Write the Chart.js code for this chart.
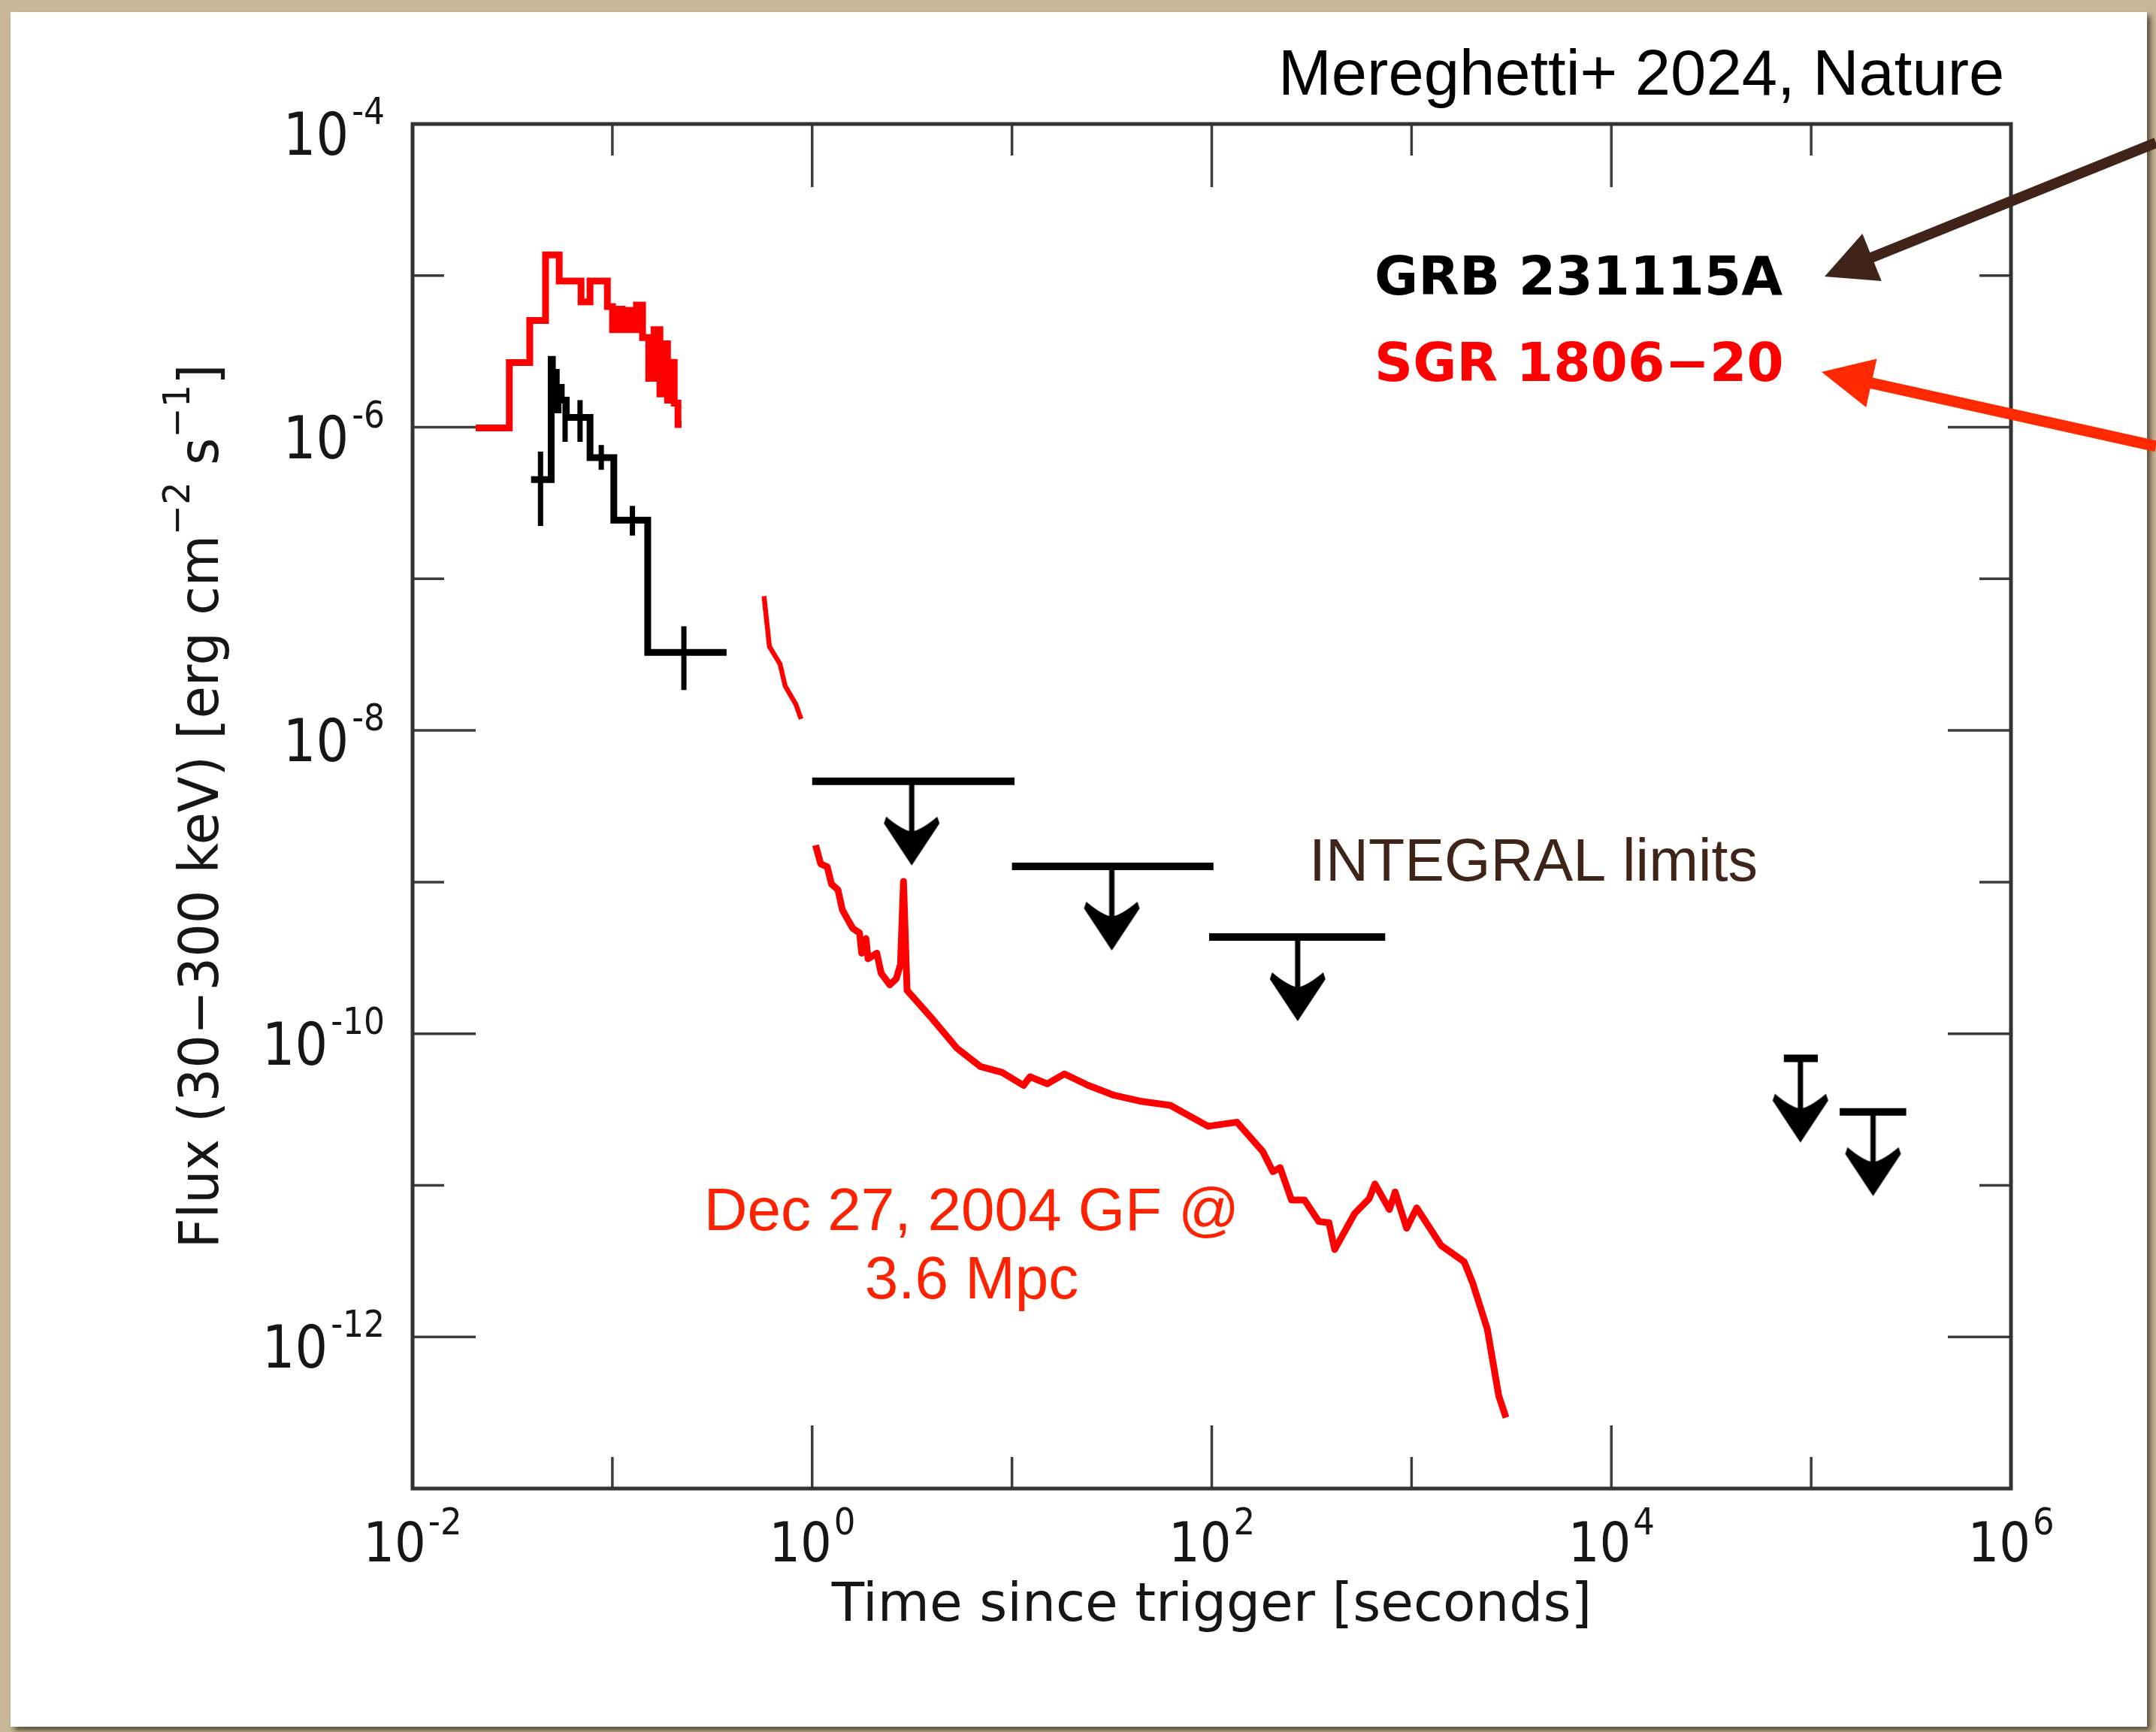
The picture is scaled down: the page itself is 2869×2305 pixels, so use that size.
<!DOCTYPE html>
<html>
<head>
<meta charset="utf-8">
<script src="https://cdn.jsdelivr.net/npm/chart.js@4.4.1/dist/chart.umd.min.js"></script>
<style>
  html, body { margin: 0; padding: 0; }
  body { width: 2869px; height: 2305px; background: #c9b898; position: relative; overflow: hidden; }
  #card { position: absolute; left: 14px; top: 16px; width: 2843px; height: 2282px; background: #fff;
          box-shadow: 5px 5px 7px rgba(70, 58, 40, 0.85); }
  #chart { position: absolute; left: 0; top: 0; }
</style>
</head>
<body>
<div id="card"></div>
<canvas id="chart" width="2869" height="2305"></canvas>
<script>
// ===== DATA =====
// SGR 1806-20 giant flare, initial spike (step histogram: bin left edges + final right edge)
const sgrStepT = [0.0207, 0.0305, 0.0386, 0.0463, 0.0542, 0.0697, 0.0773, 0.0944, 0.1002, 0.106, 0.112, 0.118,
  0.125, 0.132, 0.1416, 0.152, 0.1616, 0.173, 0.1807, 0.1888, 0.197, 0.204, 0.213, 0.222];
const sgrStepF = [9.9e-7, 2.67e-6, 5.06e-6, 1.37e-5, 9.2e-6, 6.7e-6, 9.2e-6, 6.25e-6, 4.4e-6, 6.0e-6, 4.4e-6,
  5.9e-6, 4.4e-6, 6.4e-6, 3.9e-6, 2.1e-6, 4.4e-6, 1.66e-6, 3.55e-6, 1.51e-6, 2.68e-6, 1.44e-6, 1.04e-6];

// SGR 1806-20 short segment around 0.6-0.9 s
const sgrMidT = [0.574, 0.611, 0.690, 0.733, 0.828, 0.88];
const sgrMidF = [7.69e-8, 3.58e-8, 2.75e-8, 1.96e-8, 1.49e-8, 1.19e-8];

// SGR 1806-20 pulsating tail
const sgrTailT = [1.04, 1.103, 1.19, 1.249, 1.346, 1.416, 1.524, 1.602, 1.726, 1.77, 1.859, 1.905, 2.107, 2.213,
  2.445, 2.634, 2.767, 2.865, 2.985, 4.02, 5.29, 6.95, 8.91, 11.43, 12.31, 15.02, 18.33, 24.1, 32.5, 43.8, 62,
  95.9, 133.6, 180.1, 202.3, 219.7, 250.7, 291.2, 343.6, 386.1, 412.2, 519.6, 613.8, 655.6, 774.5, 827.5, 944.7,
  1061, 1406, 1834, 2025, 2392, 2732, 2968];
const sgrTailF = [1.75e-9, 1.32e-9, 1.26e-9, 9.7e-10, 8.9e-10, 6.56e-10, 5.51e-10, 4.93e-10, 4.62e-10, 3.4e-10,
  4.24e-10, 3.12e-10, 3.4e-10, 2.51e-10, 2.1e-10, 2.3e-10, 2.86e-10, 1.01e-9, 1.93e-10, 1.24e-10, 8.05e-11,
  6.07e-11, 5.56e-11, 4.56e-11, 5.2e-11, 4.67e-11, 5.43e-11, 4.56e-11, 3.92e-11, 3.59e-11, 3.37e-11, 2.45e-11,
  2.61e-11, 1.67e-11, 1.23e-11, 1.31e-11, 8.0e-12, 8.0e-12, 5.77e-12, 5.66e-12, 3.77e-12, 6.53e-12, 8.17e-12,
  1.02e-11, 6.93e-12, 9.04e-12, 5.21e-12, 7.1e-12, 4.01e-12, 3.13e-12, 2.26e-12, 1.13e-12, 4.08e-13, 2.94e-13];

// GRB 231115A light curve (step histogram) and its error bars
const grbStepT = [0.0392, 0.0494, 0.0501, 0.0510, 0.0524, 0.0535, 0.0555, 0.0588, 0.0773, 0.1017, 0.1503, 0.373];
const grbStepF = [4.52e-7, 2.8e-6, 1.6e-6, 2.3e-6, 1.3e-6, 1.83e-6, 1.51e-6, 1.16e-6, 6.3e-7, 2.44e-7, 3.27e-8];
const grbErrT = [0.0437, 0.058, 0.0689, 0.088, 0.126, 0.228];
const grbErrLo = [2.23e-7, 8.0e-7, 8.0e-7, 5.24e-7, 1.93e-7, 1.85e-8];
const grbErrHi = [6.9e-7, 1.55e-6, 1.51e-6, 7.64e-7, 3.03e-7, 4.86e-8];

// INTEGRAL upper limits
const limLo = [1.0, 10, 97, 7.3e4, 1.39e5];
const limHi = [10.3, 102, 738, 1.08e5, 2.99e5];
const limT = [3.15, 31.6, 269, 8.83e4, 2.04e5];
const limF = [4.62e-9, 1.27e-9, 4.34e-10, 6.87e-11, 3.05e-11];

// axes
const xMajorExp = [-2, 0, 2, 4, 6];
const xMinorExp = [-1, 1, 3, 5];
const yMajorExp = [-4, -6, -8, -10, -12];
const yMinorExp = [-5, -7, -9, -11];

// ===== STYLE =====
const RED = '#ff0000';
const ARROW_LEN = 112;
const FONT_DV = '"DejaVu Sans", sans-serif';
const FONT_LIB = '"Liberation Sans", Arial, sans-serif';

function xy(ts, fs) { return ts.map((t, i) => ({ x: t, y: fs[i] })); }
function steps(ts, fs) {
  const pts = fs.map((f, i) => ({ x: ts[i], y: f }));
  pts.push({ x: ts[ts.length - 1], y: fs[fs.length - 1] });
  return pts;
}
function segments(list) {
  const pts = [];
  list.forEach(([a, b]) => { pts.push(a, b, { x: b.x, y: null }); });
  return pts;
}

// down arrow of an upper limit, drawn below the centre of the canvas
function limitGlyph() {
  const c = document.createElement('canvas');
  c.width = 90; c.height = 2 * (ARROW_LEN + 6);
  const g = c.getContext('2d');
  const cx = 45, cy = c.height / 2, tip = cy + ARROW_LEN;
  g.strokeStyle = '#000'; g.lineWidth = 7;
  g.beginPath(); g.moveTo(cx, cy); g.lineTo(cx, tip - 36); g.stroke();
  g.fillStyle = '#000';
  g.beginPath();
  g.moveTo(cx, tip);
  g.lineTo(cx - 37, tip - 56);
  g.lineTo(cx - 34, tip - 65);
  g.quadraticCurveTo(cx - 14, tip - 48, cx, tip - 45);
  g.quadraticCurveTo(cx + 14, tip - 48, cx + 34, tip - 65);
  g.lineTo(cx + 37, tip - 56);
  g.closePath(); g.fill();
  return c;
}

function supText(ctx, base, sup, x, y, o) {
  const mainFont = `${o.size}px ${FONT_DV}`, supFont = `${o.supSize}px ${FONT_DV}`;
  ctx.font = mainFont; const wb = ctx.measureText(base).width * o.sx;
  ctx.font = supFont; const ws = ctx.measureText(sup).width * o.sx;
  const w = wb + o.gap + ws;
  const left = o.align === 'center' ? x - w / 2 : (o.align === 'right' ? x - w : x);
  ctx.save();
  ctx.translate(left, y); ctx.scale(o.sx, 1);
  ctx.textAlign = 'left'; ctx.textBaseline = 'alphabetic';
  ctx.font = mainFont; ctx.fillText(base, 0, 0);
  ctx.font = supFont; ctx.fillText(sup, (wb + o.gap) / o.sx, -o.rise);
  ctx.restore();
}

function annotArrow(ctx, tail, tip, color, lw, headLen, headHalf) {
  const dx = tip[0] - tail[0], dy = tip[1] - tail[1];
  const L = Math.hypot(dx, dy), ux = dx / L, uy = dy / L;
  const bx = tip[0] - ux * headLen, by = tip[1] - uy * headLen;
  ctx.strokeStyle = color; ctx.lineWidth = lw; ctx.lineCap = 'butt';
  ctx.beginPath(); ctx.moveTo(tail[0], tail[1]); ctx.lineTo(bx + ux * 6, by + uy * 6); ctx.stroke();
  ctx.fillStyle = color;
  ctx.beginPath();
  ctx.moveTo(tip[0], tip[1]);
  ctx.lineTo(bx - uy * headHalf, by + ux * headHalf);
  ctx.lineTo(bx + uy * headHalf, by - ux * headHalf);
  ctx.closePath(); ctx.fill();
}

// ===== PLUGIN: frame, inward ticks, labels, annotations =====
const decor = {
  id: 'decor',
  afterDatasetsDraw(chart) {
    const { ctx, chartArea: a, scales: { x, y } } = chart;
    ctx.save();
    ctx.strokeStyle = '#3c3c3c';
    ctx.lineWidth = 3.5;
    ctx.beginPath();
    xMajorExp.concat(xMinorExp).forEach(e => {
      const px = x.getPixelForValue(Math.pow(10, e));
      const len = xMajorExp.includes(e) ? 84 : 42;
      ctx.moveTo(px, a.bottom); ctx.lineTo(px, a.bottom - len);
      ctx.moveTo(px, a.top); ctx.lineTo(px, a.top + len);
    });
    yMajorExp.concat(yMinorExp).forEach(e => {
      const py = y.getPixelForValue(Math.pow(10, e));
      const len = yMajorExp.includes(e) ? 84 : 42;
      ctx.moveTo(a.left, py); ctx.lineTo(a.left + len, py);
      ctx.moveTo(a.right, py); ctx.lineTo(a.right - len, py);
    });
    ctx.stroke();
    ctx.lineWidth = 5;
    ctx.strokeStyle = '#333';
    ctx.strokeRect(a.left, a.top, a.right - a.left, a.bottom - a.top);
    ctx.restore();
  },
  afterDraw(chart) {
    const { ctx, chartArea: a, scales: { x, y } } = chart;
    ctx.save();
    ctx.fillStyle = '#161616';
    xMajorExp.forEach(e => {
      supText(ctx, '10', String(e), x.getPixelForValue(Math.pow(10, e)), a.bottom + 97,
        { size: 73, supSize: 50, rise: 36, sx: 0.9, gap: 3, align: 'center' });
    });
    yMajorExp.forEach(e => {
      supText(ctx, '10', String(e), a.left - 37, y.getPixelForValue(Math.pow(10, e)) + 41,
        { size: 78, supSize: 50, rise: 41, sx: 0.88, gap: 4, align: 'right' });
    });

    // x title
    ctx.font = `71px ${FONT_DV}`;
    ctx.textAlign = 'center'; ctx.textBaseline = 'alphabetic';
    ctx.fillText('Time since trigger [seconds]', (a.left + a.right) / 2, a.bottom + 176);

    // y title (rotated, with superscripts)
    const parts = [['Flux (30\u2212300 keV) [erg cm', 0], ['\u22122', 1], [' s', 0], ['\u22121', 1], [']', 0]];
    ctx.save();
    ctx.translate(290, (a.top + a.bottom) / 2);
    ctx.rotate(-Math.PI / 2);
    ctx.scale(0.96, 1);
    ctx.textAlign = 'left';
    let total = 0;
    parts.forEach(([t, s]) => { ctx.font = `${s ? 50 : 73}px ${FONT_DV}`; total += ctx.measureText(t).width; });
    let cx = -total / 2;
    parts.forEach(([t, s]) => {
      ctx.font = `${s ? 50 : 73}px ${FONT_DV}`;
      ctx.fillText(t, cx, s ? -38 : 0);
      cx += ctx.measureText(t).width;
    });
    ctx.restore();

    // annotations
    ctx.textAlign = 'left';
    ctx.fillStyle = '#000';
    ctx.font = `85px ${FONT_LIB}`;
    ctx.fillText('Mereghetti+ 2024, Nature', 1701, 126);
    ctx.font = `bold 71px ${FONT_DV}`;
    ctx.fillText('GRB 231115A', 1829, 392);
    ctx.fillStyle = RED;
    ctx.fillText('SGR 1806\u221220', 1829, 507);
    ctx.fillStyle = '#3f2419';
    ctx.font = `79px ${FONT_LIB}`;
    ctx.fillText('INTEGRAL limits', 1742, 1172);
    ctx.fillStyle = '#ff2200';
    ctx.font = `80px ${FONT_LIB}`;
    ctx.textAlign = 'center';
    ctx.fillText('Dec 27, 2004 GF @', 1293, 1637);
    ctx.fillText('3.6 Mpc', 1293, 1728);

    annotArrow(ctx, [2869, 190], [2428, 368], '#40241a', 14, 68, 34);
    annotArrow(ctx, [2869, 594], [2424, 495], '#ff2a00', 15, 68, 33);
    ctx.restore();
  }
};

new Chart(document.getElementById('chart'), {
  type: 'line',
  data: {
    datasets: [
      { label: 'SGR spike', data: steps(sgrStepT, sgrStepF), stepped: true, borderColor: RED, borderWidth: 9,
        borderJoinStyle: 'miter' },
      { label: 'SGR mid', data: xy(sgrMidT, sgrMidF), borderColor: RED, borderWidth: 6.5 },
      { label: 'SGR tail', data: xy(sgrTailT, sgrTailF), borderColor: RED, borderWidth: 9, borderJoinStyle: 'round' },
      { label: 'GRB 231115A', data: steps(grbStepT, grbStepF), stepped: true, borderColor: '#000', borderWidth: 9,
        borderJoinStyle: 'miter' },
      { label: 'GRB errors', borderColor: '#000', borderWidth: 7,
        data: segments(grbErrT.map((t, i) => [{ x: t, y: grbErrLo[i] }, { x: t, y: grbErrHi[i] }])) },
      { label: 'INTEGRAL bars', borderColor: '#000', borderWidth: 10, borderCapStyle: 'butt',
        data: segments(limLo.map((lo, i) => [{ x: lo, y: limF[i] }, { x: limHi[i], y: limF[i] }])) },
      { label: 'INTEGRAL arrows', data: xy(limT, limF), showLine: false, pointStyle: limitGlyph(),
        pointRadius: 10, borderColor: '#000', backgroundColor: '#000' }
    ]
  },
  options: {
    responsive: false,
    animation: false,
    events: [],
    layout: { padding: { left: 549, right: 193, top: 165, bottom: 324 } },
    elements: { point: { radius: 0 }, line: { tension: 0 } },
    plugins: { legend: { display: false }, tooltip: { enabled: false } },
    scales: {
      x: { type: 'logarithmic', min: 1e-2, max: 1e6,
           grid: { display: false }, border: { display: false }, ticks: { display: false },
           afterFit: s => { s.height = 0; } },
      y: { type: 'logarithmic', min: 1e-13, max: 1e-4,
           grid: { display: false }, border: { display: false }, ticks: { display: false },
           afterFit: s => { s.width = 0; } }
    }
  },
  plugins: [decor]
});
</script>
</body>
</html>
